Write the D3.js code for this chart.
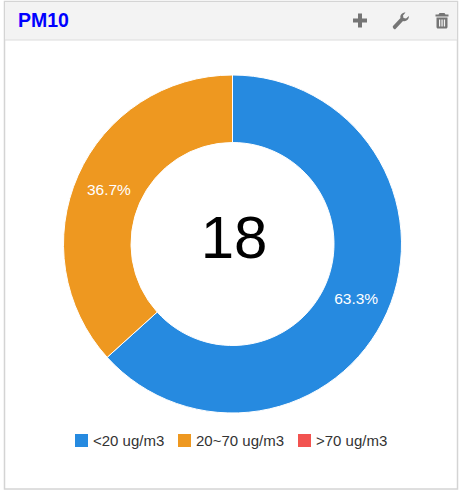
<!DOCTYPE html>
<html><head><meta charset="utf-8">
<script src="https://cdnjs.cloudflare.com/ajax/libs/d3/7.8.5/d3.min.js"></script>
<style>html,body{margin:0;padding:0;background:#fff}svg{display:block}text{font-family:"Liberation Sans",Arial,sans-serif}</style>
</head><body><div id="c"></div>
<script>
const title = "PM10";
const categories = ["<20 ug/m3", "20~70 ug/m3", ">70 ug/m3"];
const values = [63.3, 36.7, 0];
const colors = ["#268ae0", "#ee9820", "#f25350"];
const centerValue = "18";

const svg = d3.select("#c").append("svg").attr("width",463).attr("height",491);
svg.append("rect").attr("x",0).attr("y",0).attr("width",463).attr("height",491).attr("fill","#fff");
// panel
svg.append("rect").attr("x",4.5).attr("y",1.5).attr("width",453).attr("height",487.5).attr("fill","#fff").attr("stroke","#d4d4d4").attr("stroke-width",1.5);
svg.append("rect").attr("x",5).attr("y",2).attr("width",452).attr("height",38).attr("fill","#f3f3f3");
svg.append("line").attr("x1",5).attr("x2",457).attr("y1",40).attr("y2",40).attr("stroke","#dcdcdc");
svg.append("text").attr("x",18).attr("y",26.5).attr("font-size",19.5).attr("font-weight","bold").attr("fill","#0000ff").text(title);
// toolbar icons
const ic = svg.append("g").attr("fill","#757575");
ic.append("path").attr("d","M358 13.500h4v5h5v4h-5v5h-4v-5h-5v-4h5z");
ic.append("path").attr("d","M393 26l7.500-8c-.8-3 1.500-5.500 5-5.500l-2.500 3 .5 2.500 2.500.5 3-2.500c0 3.500-3 6-6 5l-7.500 8c-1 1-3.500-1.500-2.500-3z");
ic.append("path").attr("d","M439.500 13h5l1 1.500h3v2h-13v-2h3zM436.500 17.500h11v9.500c0 .8-.6 1.500-1.500 1.500h-8c-.9 0-1.500-.7-1.500-1.500zM439 19.500v7h1.300v-7zM441.400 19.500v7h1.300v-7zM443.800 19.500v7h1.300v-7z").attr("fill-rule","evenodd");
// donut
const cx=232.5, cy=244, R=169, r=101.5;
const g = svg.append("g").attr("transform",`translate(${cx},${cy})`);
const pie = d3.pie().sort(null).value(d=>d);
const arc = d3.arc().innerRadius(r).outerRadius(R);
const arcs = pie(values);
g.selectAll("path.s").data(arcs).join("path").attr("class","s").attr("d",arc)
 .attr("fill",(d,i)=>colors[i]).attr("stroke","#fff").attr("stroke-width",1);
g.selectAll("text.l").data(arcs.filter(d=>d.data>0)).join("text").attr("class","l")
 .attr("transform",d=>`translate(${arc.centroid(d)})`).attr("text-anchor","middle").attr("dy","0.36em")
 .attr("fill","#fff").attr("font-size",15.5).text(d=>d.data.toFixed(1)+"%");
svg.append("text").attr("x",cx+1.5).attr("y",cy+14).attr("text-anchor","middle").attr("font-size",60).attr("fill","#000").text(centerValue);
// legend
const lx = [75,178,298];
const lg = svg.selectAll("g.lg").data(categories).join("g").attr("class","lg").attr("transform",(d,i)=>`translate(${lx[i]},434)`);
lg.append("rect").attr("width",13).attr("height",13).attr("fill",(d,i)=>colors[i]);
lg.append("text").attr("x",18).attr("y",11.5).attr("font-size",15).attr("fill","#333").text(d=>d);
</script></body></html>
